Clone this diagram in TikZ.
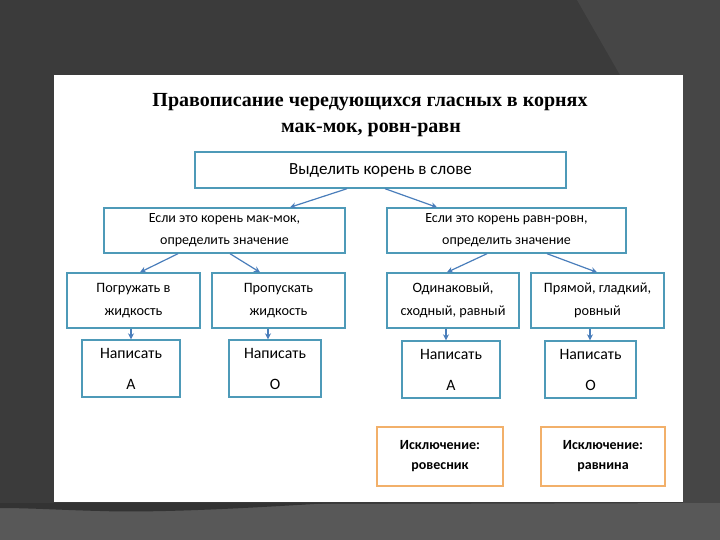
\documentclass[tikz,border=0pt]{standalone}
\usepackage{fontspec}
\setmainfont{Carlito}
\newfontfamily\titlefont{Liberation Serif}
\usetikzlibrary{arrows.meta}
\definecolor{bgdark}{HTML}{3B3B3B}
\definecolor{bglight}{HTML}{464646}
\definecolor{bgbottom}{HTML}{585858}
\definecolor{shadow}{HTML}{333333}
\definecolor{boxedge}{HTML}{4E9AB8}
\definecolor{arrowcol}{HTML}{4A7EBB}
\definecolor{excedge}{HTML}{F2B06A}
\tikzset{
  box/.style={draw=boxedge, line width=1.4pt, fill=white, inner sep=0pt, align=center, text=black},
  excbox/.style={draw=excedge, line width=1.2pt, fill=white, inner sep=0pt, align=center},
  arr/.style={draw=arrowcol, line width=1.2pt, -{Stealth[length=6pt,width=6pt]}},
}
\begin{document}
\begin{tikzpicture}[x=1pt,y=-1pt]
\useasboundingbox (0,0) rectangle (720,540);
\fill[bgdark] (0,0) rectangle (720,540);
\fill[bglight] (577,0) -- (720,0) -- (720,505) -- (683,505) -- (683,75) -- (620,75) -- cycle;
\fill[bgbottom] (0,507) -- (54,505) -- (720,503) -- (720,540) -- (0,540) -- cycle;
\fill[shadow] (0,503) -- (330,503) .. controls (250,508) and (160,513) .. (100,511) .. controls (60,510) and (30,508) .. (0,508) -- cycle;
\fill[white] (54,75) rectangle (683,502);
% title
\node[font=\titlefont\bfseries\fontsize{20}{22}\selectfont] (t1) at (370,102) {Правописание чередующихся гласных в корнях};
\node[font=\titlefont\bfseries\fontsize{20}{22}\selectfont] (t2) at (371,130) {мак-мок, ровн-равн};
% boxes
\node[box, minimum width=371pt, minimum height=36pt, font=\fontsize{17}{19}\selectfont] (top) at (380.5,170) {Выделить корень в слове};
\node[box, minimum width=241pt, minimum height=45pt, font=\fontsize{14}{22}\selectfont] (lm) at (224.5,230.5) {Если это корень мак-мок,\\определить значение};
\node[box, minimum width=239pt, minimum height=45pt, font=\fontsize{14}{22}\selectfont] (rm) at (506.5,230.5) {Если это корень равн-ровн,\\определить значение};
\node[box, minimum width=133pt, minimum height=55pt, font=\fontsize{14.3}{23}\selectfont] (b1) at (133.5,300.5) {Погружать в\\жидкость};
\node[box, minimum width=133pt, minimum height=55pt, font=\fontsize{14.3}{23}\selectfont] (b2) at (278.5,300.5) {Пропускать\\жидкость};
\node[box, minimum width=132pt, minimum height=55pt, font=\fontsize{14.3}{23}\selectfont] (b3) at (453,300.5) {Одинаковый,\\сходный, равный};
\node[box, minimum width=133pt, minimum height=55pt, font=\fontsize{14.3}{23}\selectfont] (b4) at (597.5,300.5) {Прямой, гладкий,\\ровный};
\node[box, minimum width=98pt, minimum height=57pt, font=\fontsize{15.8}{31}\selectfont] (w1) at (131,368.5) {Написать\\А};
\node[box, minimum width=92pt, minimum height=57pt, font=\fontsize{15.8}{31}\selectfont] (w2) at (275,368.5) {Написать\\О};
\node[box, minimum width=98pt, minimum height=57pt, font=\fontsize{15.8}{31}\selectfont] (w3) at (451,369.5) {Написать\\А};
\node[box, minimum width=91pt, minimum height=57pt, font=\fontsize{15.8}{31}\selectfont] (w4) at (590.5,369.5) {Написать\\О};
\node[excbox, minimum width=126pt, minimum height=59pt, font=\bfseries\fontsize{14}{20}\selectfont] (e1) at (440,456.5) {Исключение:\\ровесник};
\node[excbox, minimum width=124pt, minimum height=59pt, font=\bfseries\fontsize{14}{20}\selectfont] (e2) at (603,456.5) {Исключение:\\равнина};
% arrows
\draw[arr] ([xshift=-33.5pt]top.south) -- ([xshift=65.5pt]lm.north);
\draw[arr] ([xshift=4.5pt]top.south) -- ([xshift=-69.5pt]rm.north);
\draw[arr] ([xshift=-46.5pt]lm.south) -- ([xshift=6.5pt]b1.north);
\draw[arr] ([xshift=5.5pt]lm.south) -- ([xshift=-18.5pt]b2.north);
\draw[arr] ([xshift=-19.5pt]rm.south) -- ([xshift=-6pt]b3.north);
\draw[arr] ([xshift=40.5pt]rm.south) -- ([xshift=-0.5pt]b4.north);
\draw[arr] ([xshift=-2.5pt]b1.south) -- (w1.north);
\draw[arr] ([xshift=-10.5pt]b2.south) -- ([xshift=-7pt]w2.north);
\draw[arr] ([xshift=-7pt]b3.south) -- ([xshift=-5pt]w3.north);
\draw[arr] ([xshift=-7.5pt]b4.south) -- ([xshift=-0.5pt]w4.north);
\end{tikzpicture}
\end{document}
